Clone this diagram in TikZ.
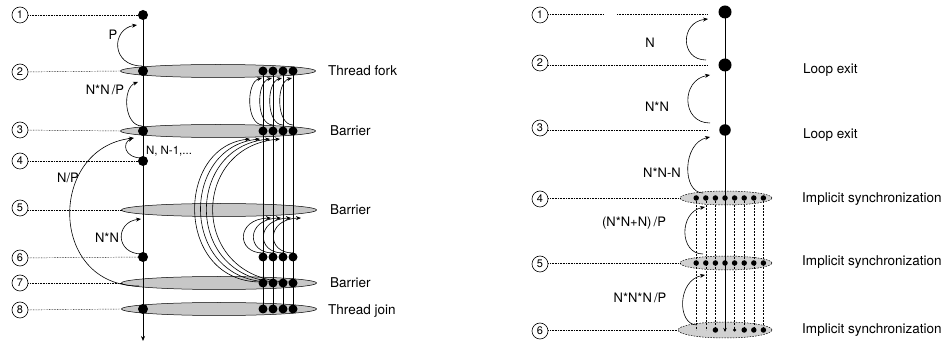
\documentclass[tikz,border=0pt]{standalone}
\usepackage{fontspec}
\setmainfont{TeX Gyre Heros}
\usetikzlibrary{arrows.meta,shapes.geometric}
\tikzset{
  num/.style={circle,draw,line width=0.6pt,inner sep=0pt,minimum size=16pt,font=\fontsize{11}{11}\selectfont},
  lbl/.style={font=\fontsize{13.5}{13.5}\selectfont,inner sep=0pt},
  albl/.style={font=\fontsize{13}{13}\selectfont,inner sep=0pt},
  guide/.style={line width=0.45pt,dash pattern=on 0.7pt off 0.9pt},
  bar/.style={ellipse,draw,line width=0.5pt,fill=black!22,minimum width=195pt,minimum height=13pt,inner sep=0pt},
  bigdot/.style={circle,fill,inner sep=0pt,minimum size=10pt},
  tdot/.style={circle,fill,inner sep=0pt,minimum size=9pt},
  rdot/.style={circle,fill,inner sep=0pt,minimum size=13pt},
  sdot/.style={circle,fill,inner sep=0pt,minimum size=5.5pt},
  backarc/.style={line width=0.6pt,-{Stealth[length=5pt,width=4pt]}},
  axisline/.style={line width=0.7pt},
  thr/.style={line width=0.6pt},
  dthr/.style={line width=0.6pt,dash pattern=on 2pt off 1.3pt},
  sync/.style={ellipse,draw,fill=black!18,minimum width=92pt,minimum height=14pt,inner sep=0pt,dash pattern=on 1.6pt off 1.2pt,line width=0.5pt}
}
\begin{document}
\begin{tikzpicture}[x=1pt,y=-1pt]
\useasboundingbox (0,0) rectangle (946,344);

% ================= LEFT DIAGRAM =================
\node[bar] (e2) at (218,71) {};
\node[bar] (e3) at (218,131) {};
\node[bar] (e5) at (219,210) {};
\node[bar] (e7) at (219,283) {};
\node[bar] (e8) at (219,309) {};

% main axis
\node[bigdot] (d1) at (143,15) {};
\coordinate (aend) at (143,341);
\draw[axisline,-{Stealth[length=5pt,width=4pt]}] (d1.center) -- (aend);
\node[bigdot] (d2) at (143,71) {};
\node[bigdot] (d3) at (143,131) {};
\node[bigdot] (d4) at (143,161) {};
\node[bigdot] (d6) at (143,257) {};
\node[bigdot] (d8) at (143,309) {};

% threads
\foreach \i/\x in {1/263,2/273,3/283,4/293} {
  \foreach \r/\y in {a/71,b/131,c/257,d/283,e/309} {
    \node[tdot] (t\i\r) at (\x,\y) {};
  }
  \draw[thr] (t\i a.center) -- (t\i e.center);
}

% circled numbers
\node[num] (n1) at (20,15) {1};
\node[num] (n2) at (20,72) {2};
\node[num] (n3) at (20,130) {3};
\node[num] (n4) at (20,161) {4};
\node[num] (n5) at (20,208) {5};
\node[num] (n6) at (20,258) {6};
\node[num] (n7) at (20,283) {7};
\node[num] (n8) at (20,310) {8};
\draw[guide] (n1) -- (d1);
\draw[guide] (n2) -- (e2.west);
\draw[guide] (n3) -- (e3.west);
\draw[guide] (n4) -- (d4);
\draw[guide] (n5.east |- e5.west) -- (e5.west);
\draw[guide] (n6) -- (d6);
\draw[guide] (n7) -- (e7.west);
\draw[guide] (n8) -- (e8.west);

% main back arcs
\coordinate (pA) at (142,66);  \coordinate (pB) at (137,25);
\draw[backarc] (pA) .. controls (111,66) and (111,29) .. (pB);
\coordinate (qA) at (142,126); \coordinate (qB) at (138,82);
\draw[backarc] (qA) .. controls (124,126) and (122,88) .. (qB);
\coordinate (rA) at (142,158); \coordinate (rB) at (133,138);
\draw[backarc] (rA) .. controls (124,158) and (122,143) .. (rB);
\coordinate (sA) at (142,254); \coordinate (sB) at (141,219);
\draw[backarc] (sA) .. controls (115,254) and (115,222) .. (sB);
\coordinate (uA) at (139,286); \coordinate (uB) at (134,138);
\draw[backarc] (uA) .. controls (48,286) and (48,148) .. (uB);

% thread back arcs
\foreach \i/\x/\c in {1/263/175,2/273/179.5,3/283/184,4/293/189} {
  \coordinate (fa\i) at (\x,125); \coordinate (fb\i) at (\x-1,78);
  \draw[backarc] (fa\i) .. controls (\x-17,125) and (\x-17,82) .. (fb\i);
  \coordinate (ma\i) at (\x,253); \coordinate (mb\i) at (\x+8,218);
  \draw[backarc] (ma\i) .. controls (\x-27,253) and (\x-27,219) .. (mb\i);
  \coordinate (ba\i) at (\x-2,282); \coordinate (bb\i) at (\x-13,139);
  \draw[backarc] (ba\i) .. controls (\c,282) and (\c,147) .. (bb\i);
}

% labels
\node[albl] (lP) at (113,35) {P};
\node[albl] (lNNP) at (105,90) {N*N\,/P};
\node[albl,font=\fontsize{11.5}{11.5}\selectfont] (lNN1) at (169,151) {N, N-1,...};
\node[albl] (lNP) at (68,178) {N/P};
\node[albl] (lNN) at (107,238) {N*N};

\node[lbl,anchor=west] (l2) at (328,71) {Thread fork};
\node[lbl,anchor=west] (l3) at (330,131) {Barrier};
\node[lbl,anchor=west] (l5) at (330,210) {Barrier};
\node[lbl,anchor=west] (l7) at (330,283) {Barrier};
\node[lbl,anchor=west] (l8) at (328,311) {Thread join};

% ================= RIGHT DIAGRAM =================
\node[sync] (E4) at (726,198) {};
\node[sync] (E5) at (726,263) {};
\node[sync,minimum height=16pt,minimum width=94pt] (E6) at (725,330) {};

\node[rdot] (D1) at (725,12) {};
\coordinate (Dend) at (725,332);
\draw[axisline,-{Stealth[length=4pt,width=3.5pt]}] (D1.center) -- (Dend);
\node[rdot] (D2) at (725,65) {};
\node[rdot,minimum size=11.5pt] (D3) at (725,130) {};

\foreach \k in {0,1,2,4,5,6,7} {
  \coordinate (vt\k) at (696.2+9.6*\k,198);
  \coordinate (vb\k) at (696.2+9.6*\k,330);
  \draw[dthr] (vt\k) -- (vb\k);
}
\foreach \k in {0,...,7} {
  \node[sdot] (s4\k) at (696.2+9.6*\k,198) {};
  \node[sdot] (s5\k) at (696.2+9.6*\k,263) {};
}
\foreach \k in {2,5,6,7} {
  \node[sdot] (s6\k) at (696.2+9.6*\k,330) {};
}
\node[sdot,minimum size=3.5pt] (s64) at (734.6,330) {};

\node[num] (r1) at (540,15) {1};
\node[num] (r2) at (540,63) {2};
\node[num] (r3) at (540,128) {3};
\node[num] (r4) at (540,199) {4};
\node[num] (r5) at (540,264) {5};
\node[num] (r6) at (540,331) {6};
\coordinate (g1a) at (603,14); \coordinate (g1b) at (617,14); \coordinate (g1c) at (707,14);
\draw[guide] (r1.east |- g1a) -- (g1a);
\draw[guide] (g1b) -- (g1c);
\coordinate (g2) at (707,65);
\draw[guide] (r2.east |- g2) -- (g2);
\coordinate (g3) at (707,130);
\draw[guide] (r3.east |- g3) -- (g3);
\draw[guide] (r4.east |- E4.west) -- (E4.west);
\draw[guide] (r5.east |- E5.west) -- (E5.west);
\draw[guide] (r6.east |- E6.west) -- (E6.west);

% right back arcs
\coordinate (RA1) at (706,60);  \coordinate (RB1) at (708,19);
\draw[backarc] (RA1) .. controls (680,60) and (680,22) .. (RB1);
\coordinate (RA2) at (710,123); \coordinate (RB2) at (710,75);
\draw[backarc] (RA2) .. controls (681,123) and (681,80) .. (RB2);
\coordinate (RA3) at (703,193); \coordinate (RB3) at (710,137);
\draw[backarc] (RA3) .. controls (682,193) and (682,143) .. (RB3);
\coordinate (RA4) at (703,254); \coordinate (RB4) at (705,207);
\draw[backarc] (RA4) .. controls (679,254) and (679,212) .. (RB4);
\coordinate (RA5) at (697,325); \coordinate (RB5) at (705,275);
\draw[backarc] (RA5) .. controls (677,325) and (677,280) .. (RB5);

\node[albl] (RL1) at (650,43) {N};
\node[albl] (RL2) at (657,107) {N*N};
\node[albl] (RL3) at (662,173) {N*N-N};
\node[albl] (RL4) at (634,223) {(N*N+N)\,/P};
\node[albl] (RL5) at (640,298) {N*N*N\,/P};

\node[lbl,anchor=west] (RX2) at (803,70) {Loop exit};
\node[lbl,anchor=west] (RX3) at (803,135) {Loop exit};
\node[lbl,anchor=west] (RS4) at (802,199) {Implicit synchronization};
\node[lbl,anchor=west] (RS5) at (802,262) {Implicit synchronization};
\node[lbl,anchor=west] (RS6) at (802,330) {Implicit synchronization};
\end{tikzpicture}
\end{document}
